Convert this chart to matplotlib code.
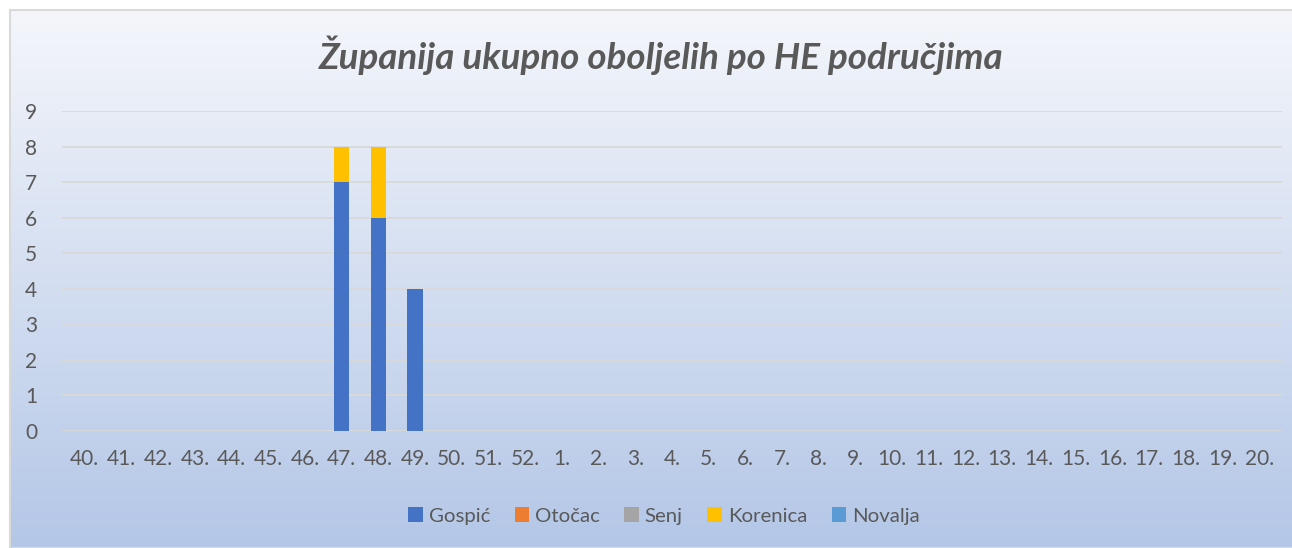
import numpy as np
import matplotlib.pyplot as plt
from matplotlib.patches import Rectangle

plt.rcParams['font.family'] = ['Lato', 'DejaVu Sans']

# tjedni (40.-52. i 1.-20.)
weeks = [f'{w}.' for w in list(range(40, 53)) + list(range(1, 21))]
areas = ['Gospić', 'Otočac', 'Senj', 'Korenica', 'Novalja']
colors = ['#4472C4', '#ED7D31', '#A5A5A5', '#FFC000', '#5B9BD5']

gospic = [0, 0, 0, 0, 0, 0, 0, 7, 6, 4] + [0] * 23
otocac = [0] * 33
senj = [0] * 33
korenica = [0, 0, 0, 0, 0, 0, 0, 1, 2, 0] + [0] * 23
novalja = [0] * 33
series = [gospic, otocac, senj, korenica, novalja]

W, H = 1292, 548
fig = plt.figure(figsize=(W / 100, H / 100), dpi=100)

# pozadina s gradijentom
bg = fig.add_axes([0, 0, 1, 1])
grad = np.linspace(0, 1, 256)[:, None]
top = np.array([244, 246, 251]) / 255
bot = np.array([180, 199, 231]) / 255
img = top + (bot - top) * grad[:, :, None]
bg.imshow(np.repeat(img, 2, axis=1), aspect='auto',
          extent=[10 / W, 1, 0, 1 - 10 / H])
bg.add_patch(Rectangle((10 / W, 0), 1, 1 - 10 / H, fill=False,
                       edgecolor='#D9D9D9', lw=1.5))
bg.set_xlim(0, 1)
bg.set_ylim(0, 1)
bg.axis('off')

ax = fig.add_axes([62 / W, 1 - 431 / H, 1220 / W, 320 / H])
ax.patch.set_alpha(0)
x = np.arange(len(weeks))
bottom = np.zeros(len(weeks))
for name, vals, c in zip(areas, series, colors):
    ax.bar(x, vals, width=0.42, bottom=bottom, color=c, label=name, zorder=3)
    bottom += np.array(vals)

ax.set_xlim(-0.62, len(weeks) - 0.38)
ax.set_ylim(0, 9)
ax.set_yticks(range(10))
ax.yaxis.grid(True, color='#D9D9D9', lw=1.3, zorder=0)
for s in ax.spines.values():
    s.set_visible(False)
ax.tick_params(length=0, colors='#595959', labelsize=15)
ax.tick_params(axis='y', pad=18)
ax.tick_params(axis='x', pad=13)
ax.set_xticks(x)
ax.set_xticklabels(weeks)

fig.text(661 / W, 1 - 55 / H, 'Županija ukupno oboljelih po HE područjima',
         ha='center', va='center', fontsize=26.5, style='italic',
         fontweight='bold', color='#595959')

fig.legend(loc='center', bbox_to_anchor=(0.514, 1 - 516 / H), ncol=5,
           frameon=False, fontsize=14.7, labelcolor='#595959',
           handlelength=0.7, handleheight=0.7, handletextpad=0.3,
           columnspacing=1.2)

fig.savefig('out.png', dpi=100)
